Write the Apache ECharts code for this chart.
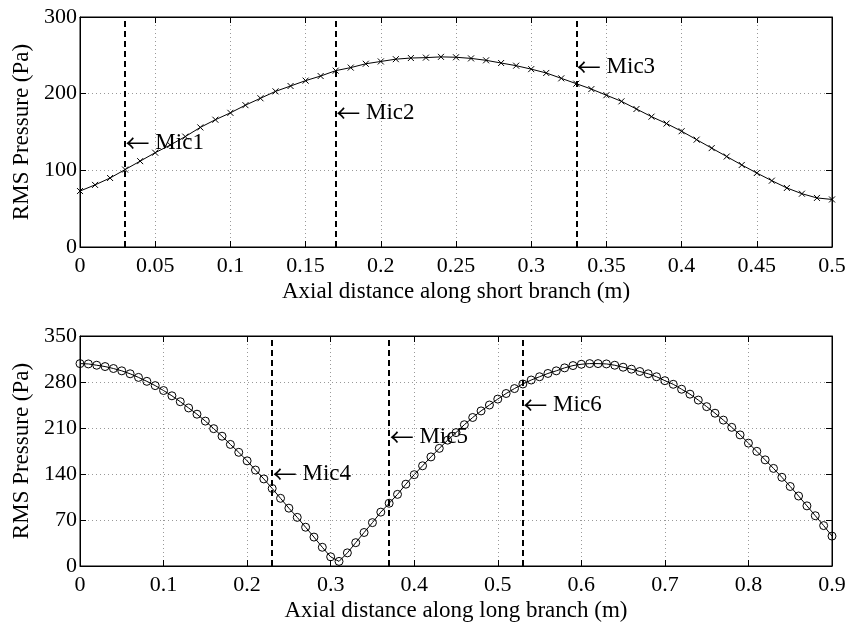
<!DOCTYPE html>
<html>
<head>
<meta charset="utf-8">
<script src="https://cdn.jsdelivr.net/npm/echarts@6/dist/echarts.min.js"></script>
<style>html,body{margin:0;padding:0;background:#fff}#c{width:851px;height:628px}</style>
</head>
<body>
<div id="c"></div>
<script>
// ---- data ----
var shortX = [0,0.01,0.02,0.03,0.04,0.05,0.06,0.07,0.08,0.09,0.10,0.11,0.12,0.13,0.14,0.15,0.16,0.17,0.18,0.19,0.20,0.21,0.22,0.23,0.24,0.25,0.26,0.27,0.28,0.29,0.30,0.31,0.32,0.33,0.34,0.35,0.36,0.37,0.38,0.39,0.40,0.41,0.42,0.43,0.44,0.45,0.46,0.47,0.48,0.49,0.50];
var shortP = [73,81,90,101,112,123,133,144,156,166,175,185,194,203,210,217,223,230,234,239,242,245,246.5,247,248,247.5,246,243.5,240,236.5,232,227,220,213,206,198,190,180,170,161,151,140,129,118,107,96.5,86.5,77,69.5,64,62];
var longX = [0,0.01,0.02,0.03,0.04,0.05,0.06,0.07,0.08,0.09,0.10,0.11,0.12,0.13,0.14,0.15,0.16,0.17,0.18,0.19,0.20,0.21,0.22,0.23,0.24,0.25,0.26,0.27,0.28,0.29,0.30,0.31,0.32,0.33,0.34,0.35,0.36,0.37,0.38,0.39,0.40,0.41,0.42,0.43,0.44,0.45,0.46,0.47,0.48,0.49,0.50,0.51,0.52,0.53,0.54,0.55,0.56,0.57,0.58,0.59,0.60,0.61,0.62,0.63,0.64,0.65,0.66,0.67,0.68,0.69,0.70,0.71,0.72,0.73,0.74,0.75,0.76,0.77,0.78,0.79,0.80,0.81,0.82,0.83,0.84,0.85,0.86,0.87,0.88,0.89,0.90];
var longP = [308,307.5,305.5,303.5,300.5,297,292.5,287,281,274.5,267,259,250,240.5,231,220.5,209,197.5,185,173,160,146,132.5,118,103,88,74,59,44,28.5,14,7,20,35.5,51,66,82,95.5,109,124.5,139,152.5,166,179,191.5,203,215,226,236,245,254,262.5,270,277,283,288,293,297,301.5,305,307,308,308,307.5,305.5,302.5,299.5,296,292.5,288,282,276.5,269,261.5,252.5,242.5,232.5,222,211,199.5,187,174.5,161.5,148.5,135,121,106.5,91.5,76.5,61.5,45.5];
var shortMicX = [0.03,0.17,0.33];
var shortMicY = [135.6,175,235];
var shortMicNames = ['Mic1','Mic2','Mic3'];
var longMicX = [0.23,0.37,0.53];
var longMicY = [140,196,245];
var longMicNames = ['Mic4','Mic5','Mic6'];
var shortXTicks = {min:0,max:0.5,interval:0.05};
var shortYTicks = {min:0,max:300,interval:100};
var longXTicks = {min:0,max:0.9,interval:0.1};
var longYTicks = {min:0,max:350,interval:70};
var shortXName = 'Axial distance along short branch (m)';
var longXName = 'Axial distance along long branch (m)';
var yName = 'RMS Pressure (Pa)';

// ---- styling ----
var FONT = '"Liberation Serif", "Times New Roman", serif';
var TICK_FS = 22, NAME_FS = 23, MIC_FS = 23;

function pairs(xs, ys){ return xs.map(function(x,i){ return [x, ys[i]]; }); }

function mainX(gi, t, name){
  return {type:'value', gridIndex:gi, min:t.min, max:t.max, interval:t.interval, position:'bottom',
    name:name, nameLocation:'middle', nameGap:33,
    nameTextStyle:{fontFamily:FONT, fontSize:NAME_FS, color:'#000'},
    axisLine:{show:true, onZero:false, lineStyle:{color:'#000', width:1}},
    axisTick:{show:true, inside:true, length:6, lineStyle:{color:'#000'}},
    axisLabel:{fontFamily:FONT, fontSize:TICK_FS, color:'#000', margin:8, showMinLabel:true, showMaxLabel:true, hideOverlap:false},
    splitLine:{show:true, lineStyle:{color:'#999', type:[1,3], width:1}}};
}
function mainY(gi, t){
  return {type:'value', gridIndex:gi, min:t.min, max:t.max, interval:t.interval, position:'left',
    name:yName, nameLocation:'middle', nameGap:45,
    nameTextStyle:{fontFamily:FONT, fontSize:NAME_FS, color:'#000'},
    axisLine:{show:true, onZero:false, lineStyle:{color:'#000', width:1}},
    axisTick:{show:true, inside:true, length:6, lineStyle:{color:'#000'}},
    axisLabel:{fontFamily:FONT, fontSize:TICK_FS, color:'#000', margin:3, showMinLabel:true, showMaxLabel:true, hideOverlap:false},
    splitLine:{show:true, lineStyle:{color:'#999', type:[1,3], width:1}}};
}
function sideAxis(gi, t, pos){
  return {type:'value', gridIndex:gi, min:t.min, max:t.max, interval:t.interval, position:pos,
    axisLine:{show:true, onZero:false, lineStyle:{color:'#000', width:1}},
    axisTick:{show:true, inside:true, length:6, lineStyle:{color:'#000'}},
    axisLabel:{show:false}, splitLine:{show:false}};
}
function micSeries(xi, yi, xs, ys, names){
  return {type:'scatter', xAxisIndex:xi, yAxisIndex:yi, symbolSize:1, silent:true, z:5,
    itemStyle:{opacity:1, color:'transparent'},
    data: xs.map(function(x,i){ return {value:[x, ys[i]], name:names[i]}; }),
    label:{show:true, position:'right', distance:0, color:'#000', opacity:1,
      formatter:function(p){ return '{a|\u2190}{t| ' + p.name + '}'; },
      rich:{
        a:{fontFamily:'"Noto Sans CJK SC"', fontSize:24, color:'#000', lineHeight:26, verticalAlign:'middle'},
        t:{fontFamily:FONT, fontSize:MIC_FS, color:'#000', lineHeight:26, verticalAlign:'middle'}
      }}};
}
function dashLines(xs){
  return {symbol:['none','none'], silent:true, label:{show:false},
    lineStyle:{color:'#000', type:[6,4], width:2, opacity:1},
    data: xs.map(function(x){ return {xAxis:x}; })};
}

var chart = echarts.init(document.getElementById('c'), null, {renderer:'canvas'});
chart.setOption({
  animation:false,
  backgroundColor:'#fff',
  grid:[
    {left:80, top:17, width:752, height:230, show:true, borderColor:'#000', borderWidth:1, backgroundColor:'#fff', outerBoundsMode:'none', containLabel:false},
    {left:80, top:336, width:752, height:230, show:true, borderColor:'#000', borderWidth:1, backgroundColor:'#fff', outerBoundsMode:'none', containLabel:false}
  ],
  xAxis:[
    mainX(0, shortXTicks, shortXName),
    mainX(1, longXTicks, longXName),
    sideAxis(0, shortXTicks, 'top'),
    sideAxis(1, longXTicks, 'top')
  ],
  yAxis:[
    mainY(0, shortYTicks),
    mainY(1, longYTicks),
    sideAxis(0, shortYTicks, 'right'),
    sideAxis(1, longYTicks, 'right')
  ],
  series:[
    {type:'line', xAxisIndex:0, yAxisIndex:0, data:pairs(shortX, shortP),
      symbol:'path://M0,0L10,10M10,0L0,10', symbolSize:6, showAllSymbol:true,
      itemStyle:{color:'transparent', borderColor:'#000', borderWidth:1},
      lineStyle:{color:'#000', width:1}, markLine:dashLines(shortMicX)},
    {type:'line', xAxisIndex:1, yAxisIndex:1, data:pairs(longX, longP),
      symbol:'circle', symbolSize:8, showAllSymbol:true,
      itemStyle:{color:'transparent', borderColor:'#000', borderWidth:1},
      lineStyle:{color:'#000', width:1}, markLine:dashLines(longMicX)},
    micSeries(0, 0, shortMicX, shortMicY, shortMicNames),
    micSeries(1, 1, longMicX, longMicY, longMicNames)
  ]
});
</script>
</body>
</html>
